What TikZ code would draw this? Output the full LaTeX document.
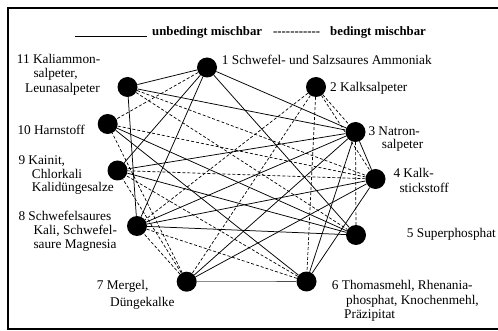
\documentclass[tikz,border=0pt]{standalone}
\usepackage{fontspec}
\setmainfont{Liberation Serif}
\begin{document}
\begin{tikzpicture}[x=1pt,y=-1pt,
  dot/.style={circle,fill=black,minimum size=20pt,inner sep=0pt},
  lbl/.style={anchor=base west,inner sep=0pt,font=\fontsize{13.3}{13.5}\selectfont},
  hdr/.style={anchor=base west,inner sep=0pt,font=\fontsize{12.8}{13}\selectfont\bfseries},
  always/.style={line width=0.75pt},
  sometimes/.style={line width=0.7pt,dash pattern=on 3pt off 2pt}]
\useasboundingbox (0,0) rectangle (498,331);

% frame
\draw[line width=2pt] (500,8) -- (8,8) -- (8,329) -- (500,329);

% legend
\coordinate (ulA) at (75,36.5);
\coordinate (ulB) at (147,36.5);
\draw[line width=0.8pt] (ulA) -- (ulB);
\node[hdr] (leg1) at (152,35.5) {unbedingt mischbar};
\node[hdr] (leg2) at (273,35.5) {-{}-{}-{}-{}-{}-{}-{}-{}-{}-{}-};
\node[hdr] (leg3) at (330,35.5) {bedingt mischbar};

% fertiliser groups
\node[dot] (n1)  at (207,67.5) {};
\node[dot] (n2)  at (316,87) {};
\node[dot] (n3)  at (355.5,132) {};
\node[dot] (n4)  at (375.5,179) {};
\node[dot] (n5)  at (356,235) {};
\node[dot] (n6)  at (306.5,281.5) {};
\node[dot] (n7)  at (186.7,281.7) {};
\node[dot] (n8)  at (137,226) {};
\node[dot] (n9)  at (117.5,170.5) {};
\node[dot] (n10) at (107.7,124) {};
\node[dot] (n11) at (127.5,87) {};

% always miscible
\foreach \a/\b in {n1/n11,n1/n3,n1/n5,n1/n8,n1/n9,n11/n3,n11/n8,
                   n3/n4,n3/n6,n3/n7,n3/n9,n3/n8,n4/n6,n4/n7,n4/n8,
                   n5/n8,n5/n9,n5/n10,n6/n10}
  \draw[always] (\a) -- (\b);
\draw[line width=0.6pt,black!70] (n7) -- (n6);

% miscible shortly before spreading
\foreach \a/\b in {n1/n10,n11/n4,n11/n5,n2/n3,n2/n4,n2/n6,n2/n7,n2/n8,
                   n3/n5,n4/n9,n4/n10,n6/n8,n6/n9,n7/n8,n7/n9,n7/n10}
  \draw[sometimes] (\a) -- (\b);

% labels
\node[lbl] (t1) at (221.7,64.5) {1 Schwefel- und Salzsaures Ammoniak};
\node[lbl] (t2) at (330,92) {2 Kalksalpeter};
\node[lbl] (t3a) at (368.3,136) {3 Natron-};
\node[lbl] (t3b) at (381.7,149) {salpeter};
\node[lbl] (t4a) at (393.3,178) {4 Kalk-};
\node[lbl] (t4b) at (399.3,192.5) {stickstoff};
\node[lbl] (t5) at (406.7,238) {5 Superphosphat};
\node[lbl] (t6a) at (331.7,289.5) {6 Thomasmehl, Rhenania-};
\node[lbl] (t6b) at (346,304.5) {phosphat, Knochenmehl,};
\node[lbl] (t6c) at (344,318) {Präzipitat};
\node[lbl] (t7a) at (96.7,289.5) {7 Mergel,};
\node[lbl] (t7b) at (110,306) {Düngekalke};
\node[lbl] (t8a) at (18.3,221) {8 Schwefelsaures};
\node[lbl] (t8b) at (33.3,234.5) {Kali, Schwefel-};
\node[lbl] (t8c) at (33.3,248.5) {saure Magnesia};
\node[lbl] (t9a) at (18.3,165) {9 Kainit,};
\node[lbl] (t9b) at (31.7,178.5) {Chlorkali};
\node[lbl] (t9c) at (31.7,192) {Kalidüngesalze};
\node[lbl] (t10) at (17.3,135) {10 Harnstoff};
\node[lbl] (t11a) at (16.7,64) {11 Kaliammon-};
\node[lbl] (t11b) at (33.3,78) {salpeter,};
\node[lbl] (t11c) at (25,92.5) {Leunasalpeter};
\end{tikzpicture}
\end{document}
